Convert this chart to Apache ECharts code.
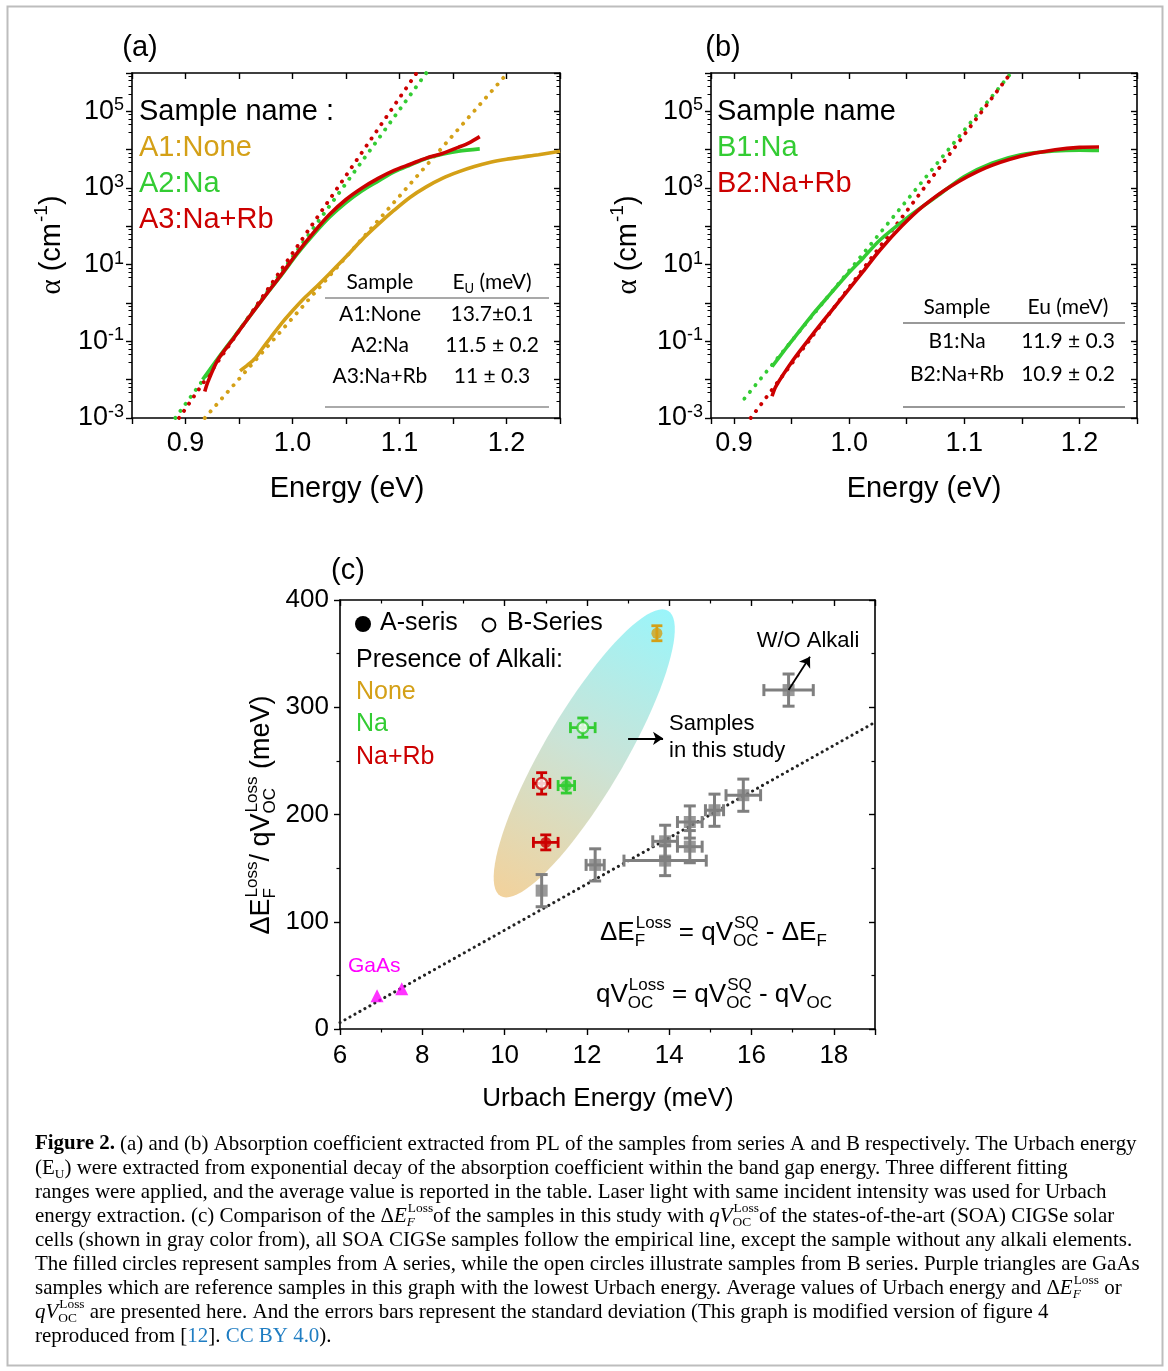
<!DOCTYPE html>
<html>
<head>
<meta charset="utf-8">
<script src="https://cdn.jsdelivr.net/npm/echarts@6.0.0/dist/echarts.min.js"></script>
<style>
  html, body { margin: 0; padding: 0; background: #fff; }
  #main { width: 1168px; height: 1371px; }
</style>
</head>
<body>
<div id="main"></div>
<script>
// ---- panel (a): series A, alpha (cm^-1) vs energy (eV)
const energyA1 = [0.951, 0.958, 0.965, 0.972, 0.980, 0.990, 1.000, 1.010, 1.020, 1.035, 1.050, 1.065, 1.080, 1.095, 1.110, 1.125, 1.140, 1.155, 1.170, 1.185, 1.200, 1.215, 1.230, 1.250];
const alphaA1 = [1.7e-2, 2.4e-2, 3.6e-2, 6.6e-2, 0.13, 0.30, 0.63, 1.26, 2.3, 6.0, 16, 45, 112, 263, 575, 1070, 1780, 2630, 3630, 4680, 5620, 6460, 7410, 9120];
const energyA2 = [0.916, 0.930, 0.945, 0.960, 0.975, 0.990, 1.005, 1.020, 1.035, 1.050, 1.065, 1.080, 1.095, 1.110, 1.125, 1.140, 1.155, 1.175];
const alphaA2 = [1.0e-2, 3.5e-2, 0.126, 0.45, 1.6, 5.5, 20, 63, 178, 417, 850, 1510, 2630, 3980, 5890, 7590, 9120, 10500];
const energyA3 = [0.918, 0.921, 0.930, 0.945, 0.960, 0.975, 0.990, 1.005, 1.020, 1.035, 1.050, 1.065, 1.080, 1.095, 1.110, 1.125, 1.140, 1.155, 1.165, 1.175];
const alphaA3 = [4.9e-3, 8.9e-3, 3.2e-2, 0.12, 0.45, 1.62, 5.75, 21.4, 70.8, 209, 501, 1000, 1780, 2880, 4170, 6030, 7940, 11500, 15100, 21900];
// Urbach fits, read at both ends
const fitEnergyA1 = [0.918, 1.201], fitAlphaA1 = [1e-3, 1e6];
const fitEnergyA2 = [0.8905, 1.125], fitAlphaA2 = [1e-3, 1e6];
const fitEnergyA3 = [0.894, 1.116], fitAlphaA3 = [1e-3, 1e6];

// ---- panel (b): series B
const energyB1 = [0.933, 0.945, 0.967, 0.980, 0.997, 1.012, 1.027, 1.052, 1.076, 1.100, 1.124, 1.149, 1.179, 1.200, 1.217];
const alphaB1 = [2.2e-2, 6.5e-2, 0.45, 1.29, 5.0, 14.8, 44.7, 182, 603, 2000, 4470, 7410, 9300, 9700, 9550];
const energyB2 = [0.933, 0.9365, 0.9515, 0.967, 0.982, 0.997, 1.012, 1.027, 1.0455, 1.064, 1.088, 1.118, 1.149, 1.179, 1.200, 1.217];
const alphaB2 = [3.7e-3, 6.8e-3, 3.3e-2, 0.135, 0.50, 1.82, 6.6, 24.5, 100, 331, 1100, 3310, 6760, 10000, 11500, 11700];
const fitEnergyB1 = [0.909, 1.1407], fitAlphaB1 = [3.2e-3, 1e6];
const fitEnergyB2 = [0.9145, 1.1404], fitAlphaB2 = [1e-3, 1e6];

// tables
const tableNamesA = ['A1:None', 'A2:Na', 'A3:Na+Rb'];
const tableEuA = ['13.7\u00b10.1', '11.5 \u00b1 0.2', '11 \u00b1 0.3'];
const tableNamesB = ['B1:Na', 'B2:Na+Rb'];
const tableEuB = ['11.9 \u00b1 0.3', '10.9 \u00b1 0.2'];

// ---- panel (c): loss vs Urbach energy (meV)
const studySeries = ['A', 'A', 'A', 'B', 'B'];
const studyAlkali = ['None', 'Na', 'Na+Rb', 'Na', 'Na+Rb'];
const studyUrbach = [13.7, 11.5, 11.0, 11.9, 10.9];
const studyUrbachErr = [0.1, 0.2, 0.3, 0.3, 0.2];
const studyLoss = [369, 227, 174, 281, 229];
const studyLossErr = [7, 7, 7, 9, 10];

const soaUrbach = [10.9, 12.2, 13.9, 13.9, 14.5, 14.5, 15.1, 15.8, 16.9];
const soaUrbachErr = [0, 0.22, 0.3, 1.0, 0.3, 0.3, 0.22, 0.42, 0.6];
const soaLoss = [129, 153, 175, 157, 193, 170, 204, 218, 316];
const soaLossErr = [15, 15, 15, 14, 15, 15, 15, 15, 15];

const gaasUrbach = [6.9, 7.5];
const gaasLoss = [31, 37.5];

const empiricalUrbach = [6, 19];
const empiricalLoss = [6, 286];

// ---------------------------------------------------------------
const SANS = '"Liberation Sans", Arial, sans-serif';
const SERIF = '"Liberation Serif", "Times New Roman", serif';
const CALI = 'Lato, "Open Sans", sans-serif';
const GOLD = '#D4A017', GREEN = '#33CC33', RED = '#CC0000', GRAY = '#7F7F7F', MAGENTA = '#FF00FF', LINK = '#1F7DC2';
const alkaliColor = { 'None': GOLD, 'Na': GREEN, 'Na+Rb': RED };

const zip = (xs, ys) => xs.map((x, i) => [x, ys[i]]);

const mctx = document.createElement('canvas').getContext('2d');
function measure(s, size, fam, st, wt) {
  mctx.font = (st || 'normal') + ' ' + (wt || 'normal') + ' ' + size + 'px ' + fam;
  return mctx.measureText(s).width;
}
function txt(s, x, y, size, fam, fill, st, wt, align) {
  return {
    type: 'text', x: x, y: y, silent: true,
    style: {
      text: s, fontSize: size, fontFamily: fam, fontStyle: st || 'normal', fontWeight: wt || 'normal',
      fill: fill || '#000', align: align || 'left', textAlign: align || 'left',
      verticalAlign: 'middle', textVerticalAlign: 'middle'
    }
  };
}
// text with stacked sub/superscripts
function mathLine(pieces, o) {
  const size = o.size, fam = o.family || SANS, col = o.color || '#000';
  const sc = o.scriptSize || Math.round(size * 0.64);
  const kids = [];
  let cx = 0;
  pieces.forEach(function (p) {
    if (typeof p === 'string') p = { t: p };
    const f = p.family || fam, c = p.color || col;
    const st = p.it ? 'italic' : 'normal', wt = p.bold ? 'bold' : 'normal';
    if (p.t) {
      kids.push(txt(p.t, cx, 0, size, f, c, st, wt));
      cx += measure(p.t, size, f, st, wt);
    }
    let w = 0;
    if (p.sup) {
      kids.push(txt(p.sup, cx + 1, -size * 0.36, sc, f, c));
      w = Math.max(w, measure(p.sup, sc, f) + 1);
    }
    if (p.sub) {
      const sst = p.subIt ? 'italic' : 'normal';
      kids.push(txt(p.sub, cx, size * 0.32, sc, f, c, sst));
      w = Math.max(w, measure(p.sub, sc, f, sst));
    }
    cx += w;
  });
  const off = o.align === 'center' ? -cx / 2 : (o.align === 'right' ? -cx : 0);
  kids.forEach(k => { k.x += off; });
  return { el: { type: 'group', x: o.x, y: o.y, rotation: o.rotation || 0, children: kids, silent: true }, width: cx };
}

// ---- axes
function axisBase(inside) {
  return {
    axisLine: { show: true, onZero: false, lineStyle: { color: '#000', width: 1.6 } },
    axisTick: { show: true, inside: inside, length: 6, lineStyle: { color: '#000', width: 1.4 } },
    minorTick: { show: false },
    splitLine: { show: false },
    minorSplitLine: { show: false }
  };
}
const energyLabel = {
  fontSize: 27, fontFamily: SANS, color: '#000', margin: 12,
  formatter: v => Math.abs(v * 10 - Math.round(v * 10)) < 1e-6 ? v.toFixed(1) : ''
};
const powLabel = {
  margin: 8,
  formatter: function (v) {
    const e = Math.round(Math.log10(v));
    return e % 2 !== 0 ? '{b|10}{s|' + (e < 0 ? '-' : '') + Math.abs(e) + '}' : '';
  },
  rich: {
    b: { fontSize: 27, fontFamily: SANS, color: '#000', lineHeight: 30 },
    s: { fontSize: 18, fontFamily: SANS, color: '#000', lineHeight: 18, verticalAlign: 'top' }
  }
};
function energyAxis(grid, min, max, split, pos) {
  return Object.assign(axisBase(pos === 'top'), {
    type: 'value', gridIndex: grid, min: min, max: max, splitNumber: split,
    minInterval: 0.05, maxInterval: 0.05, position: pos,
    axisLabel: pos === 'top' ? { show: false } : energyLabel
  });
}
function alphaAxis(grid, pos) {
  const a = Object.assign(axisBase(pos === 'right'), {
    type: 'log', logBase: 10, gridIndex: grid, min: 1e-3, max: 1e6, splitNumber: 9, position: pos,
    axisLabel: pos === 'right' ? { show: false } : powLabel
  });
  a.minorTick = { show: true, splitNumber: 5, length: 3.5, lineStyle: { color: '#000', width: 1 } };
  return a;
}
function cAxisX(pos) {
  const a = Object.assign(axisBase(pos === 'top'), {
    type: 'value', gridIndex: 2, min: 6, max: 19, interval: 2, position: pos,
    axisLabel: pos === 'top' ? { show: false } : {
      fontSize: 26, fontFamily: SANS, color: '#000', margin: 14,
      formatter: v => (v % 2 === 0 ? String(v) : '')
    }
  });
  a.minorTick = { show: true, splitNumber: 2, length: 3.5, lineStyle: { color: '#000', width: 1.2 } };
  return a;
}
function cAxisY(pos) {
  const a = Object.assign(axisBase(pos === 'right'), {
    type: 'value', gridIndex: 2, min: 0, max: 400, interval: 100, position: pos,
    axisLabel: pos === 'right' ? { show: false } : { fontSize: 26, fontFamily: SANS, color: '#000', margin: 11 }
  });
  a.minorTick = { show: true, splitNumber: 2, length: 3.5, lineStyle: { color: '#000', width: 1.2 } };
  return a;
}

// ---- series helpers
function curve(xs, ys, color, g) {
  return {
    type: 'line', xAxisIndex: 2 * g, yAxisIndex: 2 * g, data: zip(xs, ys),
    symbol: 'none', smooth: 0.3, silent: true, z: 3,
    lineStyle: { color: color, width: 3.6 }
  };
}
function fit(xs, ys, color, g) {
  return {
    type: 'line', xAxisIndex: 2 * g, yAxisIndex: 2 * g, data: zip(xs, ys),
    symbol: 'none', silent: true, z: 2,
    lineStyle: { color: color, width: 3.9, type: [0.1, 8.6], cap: 'round' }
  };
}
function errorBars(colorOf, lw, cap) {
  return function (params, api) {
    const x = api.value(0), y = api.value(1), xe = api.value(2), ye = api.value(3);
    const c = colorOf(params.dataIndex);
    const kids = [];
    const add = (x1, y1, x2, y2) => kids.push({ type: 'line', shape: { x1: x1, y1: y1, x2: x2, y2: y2 }, style: { stroke: c, lineWidth: lw } });
    if (ye > 0) {
      const t = api.coord([x, y + ye]), b = api.coord([x, y - ye]);
      add(t[0], t[1], b[0], b[1]);
      add(t[0] - cap, t[1], t[0] + cap, t[1]);
      add(b[0] - cap, b[1], b[0] + cap, b[1]);
    }
    if (xe > 0) {
      const l = api.coord([x - xe, y]), r = api.coord([x + xe, y]);
      // bars shorter than the marker stay hidden under it
      if (r[0] - l[0] > 14) {
        add(l[0], l[1], r[0], r[1]);
        add(l[0], l[1] - cap, l[0], l[1] + cap);
        add(r[0], r[1] - cap, r[0], r[1] + cap);
      }
    }
    return { type: 'group', children: kids };
  };
}
// shaded region around the study samples, from its two tips
const regionTop = [13.97, 390], regionBottom = [9.9, 124];
function regionItem(params, api) {
  const p1 = api.coord(regionTop), p2 = api.coord(regionBottom);
  const cx = (p1[0] + p2[0]) / 2, cy = (p1[1] + p2[1]) / 2;
  const a = Math.hypot(p1[0] - p2[0], p1[1] - p2[1]) / 2;
  const ang = Math.atan2(p1[1] - p2[1], p1[0] - p2[0]);
  const b = 40, pts = [];
  for (let i = 0; i < 90; i++) {
    const t = i / 90 * 2 * Math.PI, ex = a * Math.cos(t), ey = b * Math.sin(t);
    pts.push([cx + ex * Math.cos(ang) - ey * Math.sin(ang), cy + ex * Math.sin(ang) + ey * Math.cos(ang)]);
  }
  return {
    type: 'polygon', shape: { points: pts },
    style: {
      fill: new echarts.graphic.LinearGradient(p1[0], p1[1], p2[0], p2[1], [
        { offset: 0, color: '#9AF5FA' }, { offset: 0.5, color: '#CBE3D6' }, { offset: 1, color: '#F2D29C' }
      ], true)
    }
  };
}

// ---- graphics (texts, tables, caption)
const G = [];
G.push({ type: 'rect', shape: { x: 7.5, y: 6.5, width: 1155, height: 1359 }, style: { fill: 'none', stroke: '#BDBDBD', lineWidth: 2 }, silent: true });
// panel labels
G.push(txt('(a)', 140, 48, 29, SANS, '#000', 'normal', 'normal', 'center'));
G.push(txt('(b)', 723, 48, 29, SANS, '#000', 'normal', 'normal', 'center'));
G.push(txt('(c)', 348, 571, 29, SANS, '#000', 'normal', 'normal', 'center'));
// legends (a), (b)
G.push(txt('Sample name :', 139, 112, 29, SANS, '#000'));
['A1:None', 'A2:Na', 'A3:Na+Rb'].forEach((s, i) => G.push(txt(s, 139, 148 + 36 * i, 29, SANS, [GOLD, GREEN, RED][i])));
G.push(txt('Sample name', 717, 112, 29, SANS, '#000'));
['B1:Na', 'B2:Na+Rb'].forEach((s, i) => G.push(txt(s, 717, 148 + 36 * i, 29, SANS, [GREEN, RED][i])));
// axis titles
['a', 'b'].forEach((p, k) => {
  G.push(mathLine([{ t: '\u03b1', family: SERIF }, { t: ' (cm', sup: '-1' }, ')'], { x: k ? 628 : 52, y: 245, size: 29, align: 'center', rotation: Math.PI / 2 }).el);
  G.push(txt('Energy (eV)', k ? 924 : 347, 489, 29, SANS, '#000', 'normal', 'normal', 'center'));
});
G.push(txt('Urbach Energy (meV)', 608, 1099, 26, SANS, '#000', 'normal', 'normal', 'center'));
G.push(mathLine([{ t: '\u0394E', sub: 'F', sup: 'Loss' }, { t: '/ qV', sub: 'OC', sup: 'Loss' }, ' (meV)'],
  { x: 262, y: 815, size: 27, align: 'center', rotation: Math.PI / 2 }).el);
// table (a)
G.push(txt('Sample', 380, 282, 21, CALI, '#000', 'normal', 'normal', 'center'));
G.push(mathLine([{ t: 'E', sub: 'U' }, ' (meV)'], { x: 492, y: 282, size: 21, family: CALI, align: 'center' }).el);
G.push({ type: 'line', shape: { x1: 325, y1: 298, x2: 549, y2: 298 }, style: { stroke: '#555', lineWidth: 1.2 }, silent: true });
tableNamesA.forEach((s, i) => {
  G.push(txt(s, 380, 314 + 31 * i, 21, CALI, '#000', 'normal', 'normal', 'center'));
  G.push(txt(tableEuA[i], 492, 314 + 31 * i, 21, CALI, '#000', 'normal', 'normal', 'center'));
});
G.push({ type: 'line', shape: { x1: 325, y1: 407, x2: 549, y2: 407 }, style: { stroke: '#AAAAAA', lineWidth: 2 }, silent: true });
// table (b)
G.push(txt('Sample', 957, 307, 21, CALI, '#000', 'normal', 'normal', 'center'));
G.push(txt('Eu (meV)', 1068, 307, 21, CALI, '#000', 'normal', 'normal', 'center'));
G.push({ type: 'line', shape: { x1: 903, y1: 323, x2: 1125, y2: 323 }, style: { stroke: '#777', lineWidth: 1.4 }, silent: true });
tableNamesB.forEach((s, i) => {
  G.push(txt(s, 957, 341 + 33 * i, 21, CALI, '#000', 'normal', 'normal', 'center'));
  G.push(txt(tableEuB[i], 1068, 341 + 33 * i, 21, CALI, '#000', 'normal', 'normal', 'center'));
});
G.push({ type: 'line', shape: { x1: 903, y1: 407, x2: 1125, y2: 407 }, style: { stroke: '#333', lineWidth: 1.2 }, silent: true });
// legend (c)
G.push({ type: 'circle', shape: { cx: 363, cy: 624, r: 8 }, style: { fill: '#000' }, silent: true });
G.push(txt('A-seris', 380, 623, 25, SANS, '#000'));
G.push({ type: 'circle', shape: { cx: 489, cy: 625, r: 6.5 }, style: { fill: '#fff', stroke: '#000', lineWidth: 1.8 }, silent: true });
G.push(txt('B-Series', 507, 623, 25, SANS, '#000'));
G.push(txt('Presence of Alkali:', 356, 660, 25, SANS, '#000'));
['None', 'Na', 'Na+Rb'].forEach((s, i) => G.push(txt(s, 356, 692 + 32.5 * i, 25, SANS, alkaliColor[s])));
// annotations (c)
G.push(txt('W/O Alkali', 808, 641, 22, SANS, '#000', 'normal', 'normal', 'center'));
G.push(txt('Samples', 669, 724, 22, SANS, '#000'));
G.push(txt('in this study', 669, 751, 22, SANS, '#000'));
G.push(txt('GaAs', 348, 966, 21, SANS, MAGENTA));
G.push(mathLine([{ t: '\u0394E', sub: 'F', sup: 'Loss' }, { t: ' = qV', sub: 'OC', sup: 'SQ' }, { t: ' - \u0394E', sub: 'F' }],
  { x: 600, y: 933, size: 26 }).el);
G.push(mathLine([{ t: 'qV', sub: 'OC', sup: 'Loss' }, { t: ' = qV', sub: 'OC', sup: 'SQ' }, { t: ' - qV', sub: 'OC' }],
  { x: 596, y: 995, size: 26 }).el);

// caption
const captionLines = [
  [{ t: 'Figure 2.', bold: true }, ' (a) and (b) Absorption coefficient extracted from PL of the samples from series A and B respectively. The Urbach energy'],
  ['(', { t: 'E', sub: 'U' }, ') were extracted from exponential decay of the absorption coefficient within the band gap energy. Three different fitting'],
  ['ranges were applied, and the average value is reported in the table. Laser light with same incident intensity was used for Urbach'],
  ['energy extraction. (c) Comparison of the \u0394', { t: 'E', it: true, sub: 'F', subIt: true, sup: 'Loss' }, 'of the samples in this study with ', { t: 'q', it: true }, { t: 'V', it: true, sub: 'OC', sup: 'Loss' }, 'of the states-of-the-art (SOA) CIGSe solar'],
  ['cells (shown in gray color from), all SOA CIGSe samples follow the empirical line, except the sample without any alkali elements.'],
  ['The filled circles represent samples from A series, while the open circles illustrate samples from B series. Purple triangles are GaAs'],
  ['samples which are reference samples in this graph with the lowest Urbach energy. Average values of Urbach energy and \u0394', { t: 'E', it: true, sub: 'F', subIt: true, sup: 'Loss' }, ' or'],
  [{ t: 'q', it: true }, { t: 'V', it: true, sub: 'OC', sup: 'Loss' }, ' are presented here. And the errors bars represent the standard deviation (This graph is modified version of figure 4'],
  ['reproduced from [', { t: '12', color: LINK }, ']. ', { t: 'CC BY 4.0', color: LINK }, ').']
];
const w18 = mathLine(captionLines[0], { x: 0, y: 0, size: 18, family: SERIF }).width;
const capSize = Math.min(21, 18 * 1102 / w18);
captionLines.forEach((ln, i) => {
  G.push(mathLine(ln, { x: 35, y: 1144 + 24 * i, size: capSize, family: SERIF, scriptSize: capSize * 0.64 }).el);
});

// ---------------------------------------------------------------
const chart = echarts.init(document.getElementById('main'));
const option = {
  animation: false,
  backgroundColor: '#fff',
  grid: [
    { left: 132, top: 73, width: 428, height: 345 },
    { left: 711, top: 73, width: 426, height: 345 },
    { left: 340, top: 600, width: 535, height: 429 }
  ],
  xAxis: [
    energyAxis(0, 0.85, 1.25, 8, 'bottom'), energyAxis(0, 0.85, 1.25, 8, 'top'),
    energyAxis(1, 0.88, 1.25, 7, 'bottom'), energyAxis(1, 0.88, 1.25, 7, 'top'),
    cAxisX('bottom'), cAxisX('top')
  ],
  yAxis: [
    alphaAxis(0, 'left'), alphaAxis(0, 'right'),
    alphaAxis(1, 'left'), alphaAxis(1, 'right'),
    cAxisY('left'), cAxisY('right')
  ],
  series: [
    fit(fitEnergyA1, fitAlphaA1, GOLD, 0),
    fit(fitEnergyA2, fitAlphaA2, GREEN, 0),
    fit(fitEnergyA3, fitAlphaA3, RED, 0),
    curve(energyA1, alphaA1, GOLD, 0),
    curve(energyA2, alphaA2, GREEN, 0),
    curve(energyA3, alphaA3, RED, 0),
    fit(fitEnergyB1, fitAlphaB1, GREEN, 1),
    fit(fitEnergyB2, fitAlphaB2, RED, 1),
    curve(energyB1, alphaB1, GREEN, 1),
    curve(energyB2, alphaB2, RED, 1),
    // panel (c)
    {
      type: 'custom', xAxisIndex: 4, yAxisIndex: 4, data: [[regionTop[0], regionTop[1]]],
      renderItem: regionItem, silent: true, z: 1, clip: true
    },
    {
      type: 'line', xAxisIndex: 4, yAxisIndex: 4, data: zip(empiricalUrbach, empiricalLoss),
      symbol: 'none', silent: true, z: 2,
      lineStyle: { color: '#222', width: 3, type: [0.1, 5.6], cap: 'round' }
    },
    {
      type: 'custom', xAxisIndex: 4, yAxisIndex: 4, z: 3, silent: true,
      data: soaUrbach.map((x, i) => [x, soaLoss[i], soaUrbachErr[i], soaLossErr[i]]),
      renderItem: errorBars(() => GRAY, 3, 6)
    },
    {
      type: 'custom', xAxisIndex: 4, yAxisIndex: 4, z: 3, silent: true,
      data: studyUrbach.map((x, i) => [x, studyLoss[i], studyUrbachErr[i], studyLossErr[i]]),
      renderItem: errorBars(i => alkaliColor[studyAlkali[i]], 2.8, 5.5)
    },
    {
      type: 'scatter', xAxisIndex: 4, yAxisIndex: 4, z: 4, silent: true,
      symbol: 'rect', symbolSize: 12, itemStyle: { color: GRAY },
      data: zip(soaUrbach, soaLoss)
    },
    {
      type: 'scatter', xAxisIndex: 4, yAxisIndex: 4, z: 4, silent: true, symbol: 'circle', symbolSize: 11,
      data: studyUrbach.map((x, i) => ({
        value: [x, studyLoss[i]],
        itemStyle: studySeries[i] === 'A'
          ? { color: alkaliColor[studyAlkali[i]] }
          : { color: '#fff', borderColor: alkaliColor[studyAlkali[i]], borderWidth: 2.4 }
      }))
    },
    {
      type: 'scatter', xAxisIndex: 4, yAxisIndex: 4, z: 4, silent: true,
      symbol: 'triangle', symbolSize: 13, itemStyle: { color: MAGENTA },
      data: zip(gaasUrbach, gaasLoss)
    },
    {
      type: 'lines', coordinateSystem: 'cartesian2d', xAxisIndex: 4, yAxisIndex: 4, z: 5, silent: true,
      symbol: ['none', 'arrow'], symbolSize: 10,
      lineStyle: { color: '#000', width: 1.8, opacity: 1 },
      data: [
        { coords: [[16.9, 316], [17.42, 347]] },
        { coords: [[13.0, 271], [13.85, 271]] }
      ]
    }
  ],
  graphic: { elements: G }
};
chart.setOption(option);
</script>
</body>
</html>
